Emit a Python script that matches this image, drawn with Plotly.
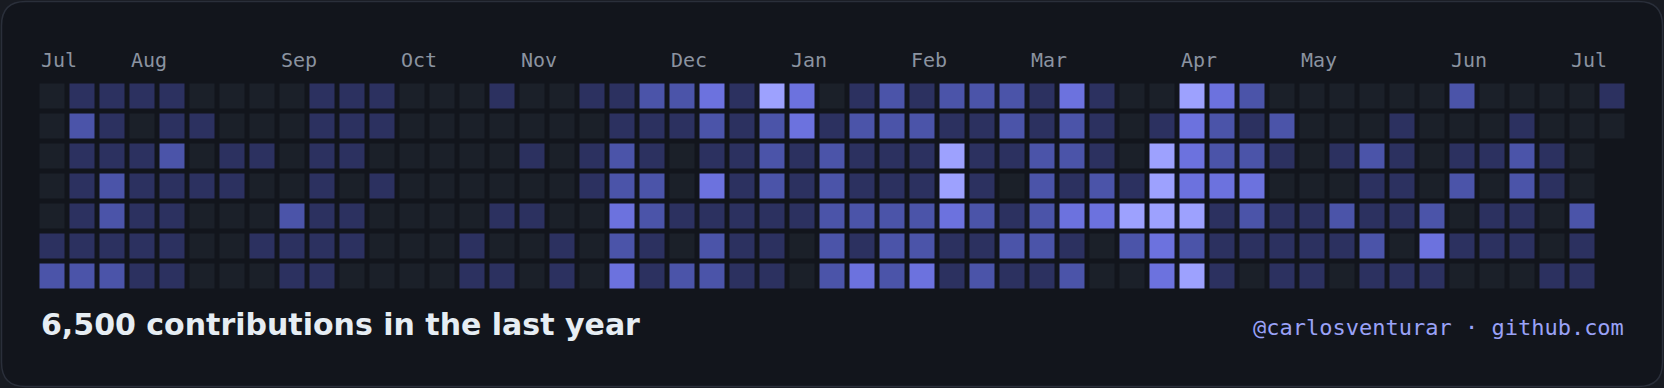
import plotly.graph_objects as go

W, H = 1664, 388

# ---------------- data: contribution level (0-4) per weekday row, one entry per week ----------------
weeks = list(range(53))
weekdays = ["Sun", "Mon", "Tue", "Wed", "Thu", "Fri", "Sat"]

sun = [0,1,1,1,1,0,0,0,0,1, 1,1,0,0,0,1,0,0,1,1, 2,2,3,1,4,3,0,1,2,1, 2,2,2,1,3,1,0,0,4,3, 2,0,0,0,0,0,0,2,0,0, 0,0,1]
mon = [0,2,1,0,1,1,0,0,0,1, 1,1,0,0,0,0,0,0,0,1, 1,1,2,1,2,3,1,2,2,2, 1,1,2,1,2,1,0,1,3,2, 1,2,0,0,0,1,0,0,0,1, 0,0,0]
tue = [0,1,1,1,2,0,1,1,0,1, 1,0,0,0,0,0,1,0,1,2, 1,0,1,1,2,1,2,1,1,1, 4,1,1,2,2,1,0,4,3,2, 2,1,0,1,2,1,0,1,1,2, 1,0,None]
wed = [0,1,2,1,1,1,1,0,0,1, 0,1,0,0,0,0,0,0,1,2, 2,0,3,1,2,1,2,1,1,1, 4,1,0,2,1,2,1,4,3,3, 3,0,0,0,1,1,0,2,0,2, 1,0,None]
thu = [0,1,2,1,1,0,0,0,2,1, 1,0,0,0,0,1,1,0,0,3, 2,1,1,1,1,1,2,2,2,2, 3,2,1,2,3,3,4,4,4,1, 2,1,1,2,1,1,2,0,1,1, 0,2,None]
fri = [1,1,1,1,1,0,0,1,1,1, 1,0,0,0,1,0,0,1,0,2, 1,0,2,1,1,0,2,1,2,2, 1,1,2,2,1,0,2,3,2,1, 1,1,1,1,2,0,3,1,1,1, 0,1,None]
sat = [2,2,2,1,1,0,0,0,1,1, 0,0,0,0,1,1,0,1,0,3, 1,2,2,1,1,0,2,3,2,3, 1,2,1,1,2,0,0,3,4,1, 0,1,1,0,1,1,1,0,0,0, 1,1,None]

month_labels = ["Jul", "Aug", "Sep", "Oct", "Nov", "Dec", "Jan", "Feb", "Mar", "Apr", "May", "Jun", "Jul"]
month_weeks = [0, 3, 8, 12, 16, 21, 25, 29, 33, 38, 42, 47, 51]

title_text = "6,500 contributions in the last year"
footer_text = "@carlosventurar · github.com"

# ---------------- styling ----------------
level_colors = ["#1b2029", "#2c3160", "#4b54a9", "#6c72de", "#9da1fe"]
card_bg = "#12151c"
outer_bg = "#181b22"
card_border = "#2a2f3a"

z = [sun, mon, tue, wed, thu, fri, sat]

colorscale = [[i / 4, c] for i, c in enumerate(level_colors)]


def px_x(p):
    return p / W


def px_y(p):
    return 1 - p / H


fig = go.Figure()
fig.add_trace(go.Heatmap(
    z=z, x=weeks, y=weekdays,
    zmin=0, zmax=4, colorscale=colorscale, showscale=False,
    xgap=5, ygap=5,
    hovertemplate="%{y}, week %{x}: level %{z}<extra></extra>",
))

# card with rounded corners (paper coordinates)
l, r_, t, b, rad = 1.5, 1662.5, 1.5, 386.5, 24
pts = [
    ("M", (l + rad, t)), ("L", (r_ - rad, t)), ("Q", (r_, t), (r_, t + rad)),
    ("L", (r_, b - rad)), ("Q", (r_, b), (r_ - rad, b)),
    ("L", (l + rad, b)), ("Q", (l, b), (l, b - rad)),
    ("L", (l, t + rad)), ("Q", (l, t), (l + rad, t)),
]
path = ""
for p in pts:
    cmd = p[0]
    coords = " ".join(f"{px_x(x):.6f},{px_y(y):.6f}" for x, y in p[1:])
    path += f"{cmd}{coords} "
path += "Z"
fig.add_shape(type="path", path=path, xref="paper", yref="paper",
              fillcolor=card_bg, line=dict(color=card_border, width=1.5), layer="below")

annotations = []
for name, wk in zip(month_labels, month_weeks):
    annotations.append(dict(
        x=wk - 0.5, y=px_y(59.8), xref="x", yref="paper",
        xanchor="left", yanchor="middle", xshift=2.5,
        text=name, showarrow=False, borderpad=0,
        font=dict(family="DejaVu Sans Mono", size=20, color="#8b93a0"),
    ))
annotations.append(dict(
    x=px_x(40), y=px_y(324.6), xref="paper", yref="paper",
    xanchor="left", yanchor="middle", text=f"<b>{title_text}</b>", showarrow=False, borderpad=0,
    font=dict(family="DejaVu Sans", size=30, color="#e6edf3"),
))
annotations.append(dict(
    x=px_x(1625), y=px_y(327.4), xref="paper", yref="paper",
    xanchor="right", yanchor="middle", text=footer_text, showarrow=False, borderpad=0,
    font=dict(family="DejaVu Sans Mono", size=22, color="#9aa2f7"),
))

fig.update_layout(
    width=W, height=H,
    margin=dict(l=0, r=0, t=0, b=0),
    paper_bgcolor=outer_bg, plot_bgcolor="rgba(0,0,0,0)",
    xaxis=dict(domain=[px_x(37.5), px_x(1627.5)], range=[-0.5, 52.5], visible=False, fixedrange=True),
    yaxis=dict(domain=[px_y(291.5), px_y(81.5)], range=[6.5, -0.5], visible=False, fixedrange=True),
    annotations=annotations,
    showlegend=False,
)

fig.write_html("out.html", config={"displayModeBar": False})
